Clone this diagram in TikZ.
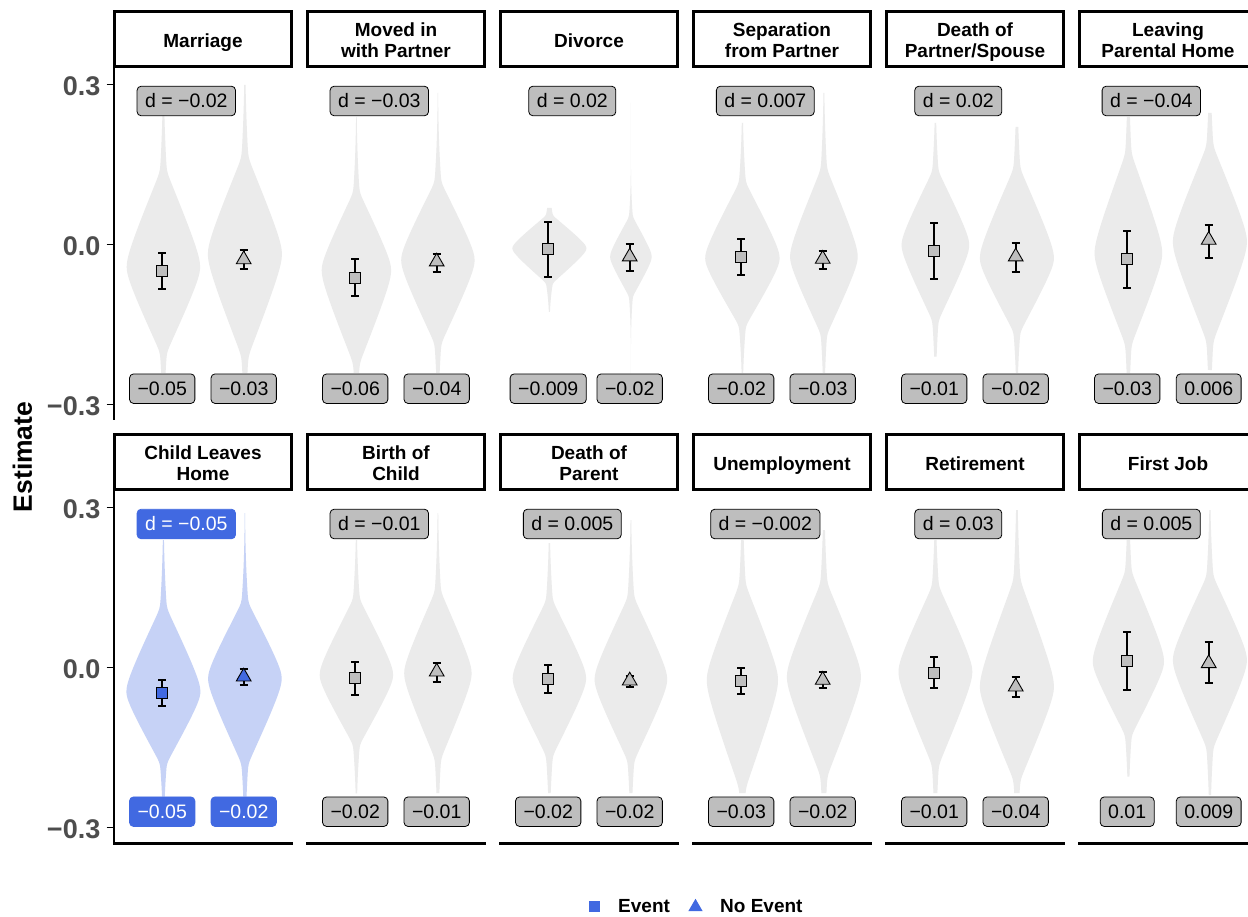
\documentclass[tikz,border=0pt]{standalone}
\usepackage{fontspec}
\setmainfont{Liberation Sans}
\usetikzlibrary{shapes.geometric}
\definecolor{viogray}{HTML}{EBEBEB}
\definecolor{labgray}{HTML}{BEBEBE}
\definecolor{royal}{HTML}{4169E1}
\definecolor{vioblue}{HTML}{C6D2F6}
\definecolor{tickgray}{HTML}{4D4D4D}
% half width of a violin: #1 = max half width, #2 = cone length, #3 = distance from the mode
\newcommand{\vu}[2]{((#2)/(0.88*(#1)))}
\newcommand{\vc}[2]{(1.137-sqrt(\vu{#1}{#2}*\vu{#1}{#2}+0.0188))}
\newcommand{\vw}[3]{(#1)*(0.8*max(\vc{#2}{#3},0)+0.024*ln(1+exp(-min(abs(\vc{#2}{#3})/0.03,9)))+0.2*exp(-min(\vu{#2}{#3}*\vu{#2}{#3}/1.62,9)))+1.2}
\newcommand{\vio}[8]{%
 \fill[#8] plot[variable=\t,domain=#6:#2,samples=45] ({#1-\vw{#3}{#4}{\t-#2}},{\t})
  -- plot[variable=\t,domain=#2:#7,samples=45] ({#1-\vw{#3}{#5}{\t-#2}},{\t})
  -- plot[variable=\t,domain=#7:#2,samples=45] ({#1+\vw{#3}{#5}{\t-#2}},{\t})
  -- plot[variable=\t,domain=#2:#6,samples=45] ({#1+\vw{#3}{#4}{\t-#2}},{\t}) -- cycle;}
\newcommand{\ebar}[3]{\draw[ebar] (#1-4,#2) -- (#1+4,#2) (#1,#2) -- (#1,#3) (#1-4,#3) -- (#1+4,#3);}
\newcommand{\stl}[1]{\raisebox{-1.5pt}[16.8pt][3.2pt]{#1}}
\begin{document}
\begin{tikzpicture}[x=1pt,y=-1pt,
 viog/.style={fill=viogray},
 viob/.style={fill=vioblue},
 ebar/.style={line width=1.9pt, black},
 evm/.style={rectangle, draw=black, fill=labgray, line width=0.9pt, minimum size=11pt, inner sep=0pt},
 evmb/.style={evm, fill=royal},
 nem/.style={regular polygon, regular polygon sides=3, draw=black, fill=labgray, line width=0.9pt, minimum size=17pt, inner sep=0pt},
 nemb/.style={nem, fill=royal},
 lab/.style={rectangle, rounded corners=4pt, draw=black, fill=labgray, line width=0.8pt, inner xsep=8pt, inner ysep=0pt, minimum height=29.5pt, font=\fontsize{19.5}{23}\selectfont},
 labb/.style={lab, draw=royal, fill=royal, text=white},
 strip/.style={rectangle, draw=black, line width=2.6pt, minimum width=177.4pt, minimum height=55.2pt, inner sep=0pt, align=center, font=\bfseries\fontsize{19}{20.7}\selectfont},
 ticklab/.style={anchor=east, inner sep=0pt, text=tickgray, font=\bfseries\fontsize{27}{30}\selectfont},
 axis/.style={line width=2.3pt, black},
 tickl/.style={line width=1.2pt, black},
 legtxt/.style={anchor=west, inner sep=0pt, font=\bfseries\fontsize{19}{22}\selectfont}
]
\useasboundingbox (0,0) rectangle (1248,917);
\clip (0,0) rectangle (1248,917);
\fill[white] (0,0) rectangle (1248,917);

% ---------- strips ----------
\node[strip] (s1) at (203,39) {\stl{Marriage}};
\node[strip] (s2) at (396,39) {\stl{Moved in}\\\stl{with Partner}};
\node[strip] (s3) at (589,39) {\stl{Divorce}};
\node[strip] (s4) at (782,39) {\stl{Separation}\\\stl{from Partner}};
\node[strip] (s5) at (975,39) {\stl{Death of}\\\stl{Partner/Spouse}};
\node[strip] (s6) at (1168,39) {\stl{Leaving}\\\stl{Parental Home}};
\node[strip] (s7) at (203,462) {\stl{Child Leaves}\\\stl{Home}};
\node[strip] (s8) at (396,462) {\stl{Birth of}\\\stl{Child}};
\node[strip] (s9) at (589,462) {\stl{Death of}\\\stl{Parent}};
\node[strip] (s10) at (782,462) {\stl{Unemployment}};
\node[strip] (s11) at (975,462) {\stl{Retirement}};
\node[strip] (s12) at (1168,462) {\stl{First Job}};

% ---------- axes ----------
\draw[axis] (114,68) -- (114,420);
\draw[axis] (114,491) -- (114,843.5) -- (293,843.5);
\draw[axis] (306,843.5) -- (486,843.5);
\draw[axis] (499,843.5) -- (679,843.5);
\draw[axis] (692,843.5) -- (872,843.5);
\draw[axis] (885,843.5) -- (1065,843.5);
\draw[axis] (1078,843.5) -- (1258,843.5);
\foreach \yy in {84.4,244.3,404.3,507.4,667.3,827.3} {\draw[tickl] (106.5,\yy) -- (113,\yy);}
\node[ticklab] (t1) at (100.5,86.2) {0.3};
\node[ticklab] (t2) at (100.5,246.1) {0.0};
\node[ticklab] (t3) at (100.5,406.1) {−0.3};
\node[ticklab] (t4) at (100.5,509.2) {0.3};
\node[ticklab] (t5) at (100.5,669.1) {0.0};
\node[ticklab] (t6) at (100.5,829.1) {−0.3};
\node[rotate=90, inner sep=0pt, font=\bfseries\fontsize{26.5}{30}\selectfont] (ylab) at (22.5,457) {Estimate};

% ---------- violins: x, mode, half width, upper cone, lower cone, top, bottom ----------
\vio{162.2}{267}{36.7}{96}{86}{115}{373}{viog}
\vio{243.7}{254}{37}{97}{103}{85}{373}{viog}
\vio{355.2}{270}{34.7}{78}{94}{117}{373}{viog}
\vio{436.7}{260}{36.7}{78}{84}{93}{373}{viog}
\vio{548.2}{248.3}{37}{33}{35}{208}{312}{viog}
\vio{629.7}{256.7}{20.8}{40}{40}{103}{373}{viog}
\vio{741.2}{258.3}{37.2}{76}{68}{123}{373}{viog}
\vio{822.7}{256.7}{33.8}{88}{78}{93}{373}{viog}
\vio{934.2}{245}{33.8}{74}{76}{123}{356.7}{viog}
\vio{1015.7}{258.3}{37}{90}{74}{127}{373}{viog}
\vio{1127.2}{253.3}{33.8}{100}{92}{117}{373}{viog}
\vio{1208.7}{241.7}{37}{96}{100}{113}{370}{viog}
\vio{162.2}{691.7}{37}{84}{72}{540}{796.7}{viob}
\vio{243.7}{678.3}{36.8}{76}{86}{513}{796.7}{viob}
\vio{355.2}{675}{36.7}{76}{70}{540}{793.3}{viog}
\vio{436.7}{673.3}{33.7}{82}{86}{513}{793}{viog}
\vio{548.2}{678.3}{36.7}{78}{78}{543}{793}{viog}
\vio{629.7}{679.3}{36.3}{82}{82}{520}{793}{viog}
\vio{741.2}{680}{35.6}{96}{109}{540}{793}{viog}
\vio{822.7}{676.7}{37}{94}{100}{530}{793}{viog}
\vio{934.2}{671.7}{36.9}{86}{94}{540}{793}{viog}
\vio{1015.7}{686.7}{37}{107}{94}{510}{793}{viog}
\vio{1127.2}{661.7}{35.6}{90}{74}{540}{776.7}{viog}
\vio{1208.7}{660}{37}{84}{88}{510}{795}{viog}

% ---------- error bars ----------
\ebar{162.2}{252.7}{289}
\ebar{243.7}{250.3}{269.3}
\ebar{355.2}{259.3}{296}
\ebar{436.7}{254.3}{272.3}
\ebar{548.2}{221.7}{277.3}
\ebar{629.7}{244}{270.7}
\ebar{741.2}{239.3}{275}
\ebar{822.7}{251}{269}
\ebar{934.2}{223.3}{279}
\ebar{1015.7}{243.3}{271.7}
\ebar{1127.2}{231}{288.3}
\ebar{1208.7}{225}{257.7}
\ebar{162.2}{680}{705.7}
\ebar{243.7}{669.3}{685}
\ebar{355.2}{661.7}{695}
\ebar{436.7}{663.3}{682.3}
\ebar{548.2}{665}{692.7}
\ebar{629.7}{676}{686.7}
\ebar{741.2}{668.3}{694}
\ebar{822.7}{672.3}{688.3}
\ebar{934.2}{657.3}{688.3}
\ebar{1015.7}{676.7}{697.3}
\ebar{1127.2}{631.7}{690}
\ebar{1208.7}{642.3}{683.3}

% ---------- markers ----------
\node[evm] (me1) at (162.2,270.8) {};
\node[nem] (mn1) at (243.7,259.5) {};
\node[evm] (me2) at (355.2,277.7) {};
\node[nem] (mn2) at (436.7,261.7) {};
\node[evm] (me3) at (548.2,249.3) {};
\node[nem] (mn3) at (629.7,256.7) {};
\node[evm] (me4) at (741.2,256.7) {};
\node[nem] (mn4) at (822.7,259) {};
\node[evm] (me5) at (934.2,250.7) {};
\node[nem] (mn5) at (1015.7,256.7) {};
\node[evm] (me6) at (1127.2,259.3) {};
\node[nem] (mn6) at (1208.7,240) {};
\node[evmb] (me7) at (162.2,692.7) {};
\node[nemb] (mn7) at (243.7,676.7) {};
\node[evm] (me8) at (355.2,678.3) {};
\node[nem] (mn8) at (436.7,671.7) {};
\node[evm] (me9) at (548.2,679.3) {};
\node[nem] (mn9) at (629.7,680.7) {};
\node[evm] (me10) at (741.2,681) {};
\node[nem] (mn10) at (822.7,680) {};
\node[evm] (me11) at (934.2,672.7) {};
\node[nem] (mn11) at (1015.7,686.7) {};
\node[evm] (me12) at (1127.2,661) {};
\node[nem] (mn12) at (1208.7,663.3) {};

% ---------- labels ----------
\node[lab] (d1) at (186.3,101) {d = −0.02};
\node[lab] (a1) at (162.2,388.7) {−0.05};
\node[lab] (b1) at (243.7,388.7) {−0.03};
\node[lab] (d2) at (379.3,101) {d = −0.03};
\node[lab] (a2) at (355.2,388.7) {−0.06};
\node[lab] (b2) at (436.7,388.7) {−0.04};
\node[lab] (d3) at (572.3,101) {d = 0.02};
\node[lab] (a3) at (548.2,388.7) {−0.009};
\node[lab] (b3) at (629.7,388.7) {−0.02};
\node[lab] (d4) at (765.3,101) {d = 0.007};
\node[lab] (a4) at (741.2,388.7) {−0.02};
\node[lab] (b4) at (822.7,388.7) {−0.03};
\node[lab] (d5) at (958.3,101) {d = 0.02};
\node[lab] (a5) at (934.2,388.7) {−0.01};
\node[lab] (b5) at (1015.7,388.7) {−0.02};
\node[lab] (d6) at (1151.3,101) {d = −0.04};
\node[lab] (a6) at (1127.2,388.7) {−0.03};
\node[lab] (b6) at (1208.7,388.7) {0.006};
\node[labb] (d7) at (186.3,524) {d = −0.05};
\node[labb] (a7) at (162.2,811.7) {−0.05};
\node[labb] (b7) at (243.7,811.7) {−0.02};
\node[lab] (d8) at (379.3,524) {d = −0.01};
\node[lab] (a8) at (355.2,811.7) {−0.02};
\node[lab] (b8) at (436.7,811.7) {−0.01};
\node[lab] (d9) at (572.3,524) {d = 0.005};
\node[lab] (a9) at (548.2,811.7) {−0.02};
\node[lab] (b9) at (629.7,811.7) {−0.02};
\node[lab] (d10) at (765.3,524) {d = −0.002};
\node[lab] (a10) at (741.2,811.7) {−0.03};
\node[lab] (b10) at (822.7,811.7) {−0.02};
\node[lab] (d11) at (958.3,524) {d = 0.03};
\node[lab] (a11) at (934.2,811.7) {−0.01};
\node[lab] (b11) at (1015.7,811.7) {−0.04};
\node[lab] (d12) at (1151.3,524) {d = 0.005};
\node[lab] (a12) at (1127.2,811.7) {0.01};
\node[lab] (b12) at (1208.7,811.7) {0.009};

% ---------- legend ----------
\node[rectangle, fill=royal, minimum size=11pt, inner sep=0pt] (legE) at (594,906.5) {};
\node[legtxt] (legEt) at (618,906.5) {Event};
\node[regular polygon, regular polygon sides=3, fill=royal, minimum size=16.5pt, inner sep=0pt] (legN) at (695.5,907) {};
\node[legtxt] (legNt) at (720,906.5) {No Event};
\end{tikzpicture}
\end{document}
